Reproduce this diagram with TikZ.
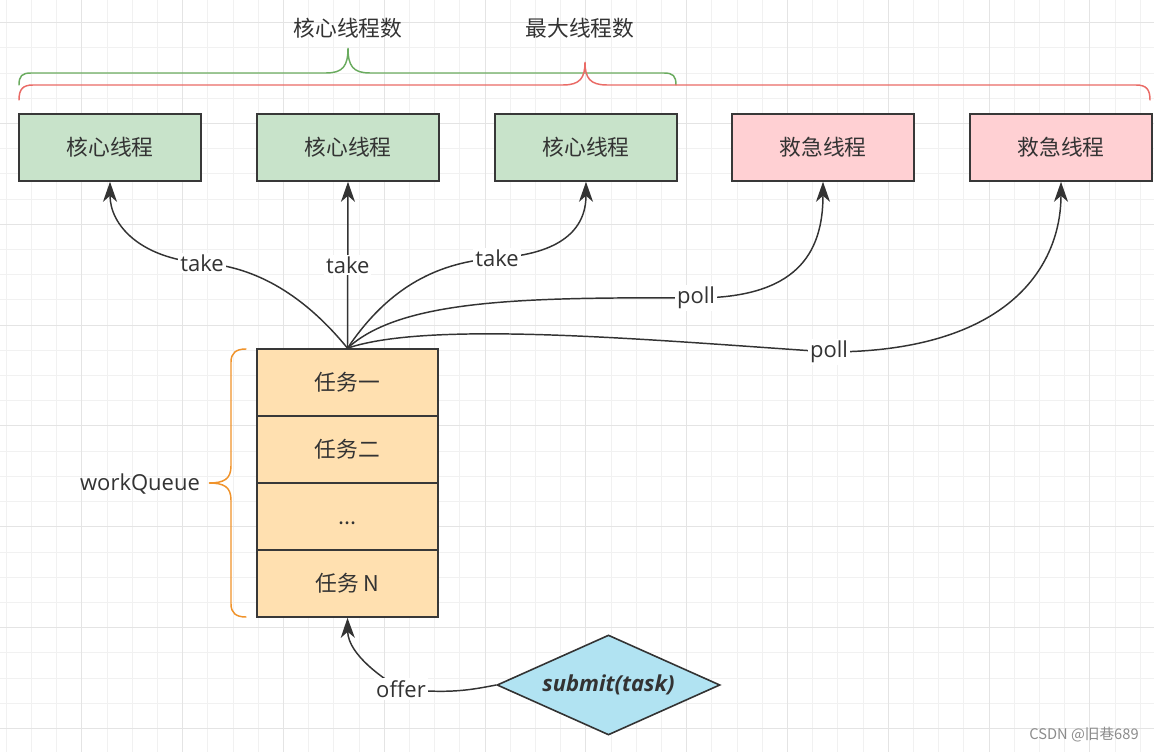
\documentclass[tikz,border=0pt]{standalone}
\usepackage{fontspec}
\setmainfont{Open Sans}
\newfontfamily\cjk{Noto Sans CJK SC}
\usetikzlibrary{shapes.geometric,arrows.meta}
\definecolor{txt}{HTML}{333333}
\definecolor{gfill}{HTML}{C8E3CA}
\definecolor{pfill}{HTML}{FFD0D3}
\definecolor{ofill}{HTML}{FFE0B0}
\definecolor{dfill}{HTML}{B1E3F2}
\definecolor{gbrace}{HTML}{6AAB5F}
\definecolor{rbrace}{HTML}{EA6B66}
\definecolor{obrace}{HTML}{F0932B}
\definecolor{gridminor}{HTML}{F1F1F1}
\definecolor{gridmajor}{HTML}{E4E4E4}
\begin{document}
\begin{tikzpicture}[x=0.75pt,y=-0.75pt,
  every node/.style={text=txt},
  cjkfont/.style={font=\cjk\fontsize{16.3}{19}\selectfont},
  box/.style={cjkfont,draw=black!78,line width=1.2pt,minimum width=136.5pt,minimum height=50.25pt,inner sep=0pt},
  corebox/.style={box,fill=gfill},
  rescuebox/.style={box,fill=pfill},
  qbox/.style={box,fill=ofill,minimum width=135.75pt},
  conn/.style={draw=txt,line width=1.1pt,-{Stealth[length=15pt,width=10.5pt,inset=4.5pt]}},
  lbl/.style={font=\fontsize{16.5}{19}\selectfont,fill=white,inner sep=1.5pt},
  bracestyle/.style={line width=1.1pt,line cap=round}]
\useasboundingbox (0,0) rectangle (1154,752);
\fill[white] (0,0) rectangle (1154,752);
% grid
\foreach \i [evaluate=\i as \x using 6.3+25.2*\i] in {0,...,45}
  \draw[gridminor,line width=0.75pt] (\x,0) -- (\x,752);
\foreach \j [evaluate=\j as \y using -2.4+25.2*\j] in {1,...,29}
  \draw[gridminor,line width=0.75pt] (0,\y) -- (1154,\y);
\foreach \i [evaluate=\i as \x using -18.9+100.8*\i] in {1,...,11}
  \draw[gridmajor,line width=0.75pt] (\x,0) -- (\x,752);
\foreach \j [evaluate=\j as \y using 22.8+100.8*\j] in {0,...,7}
  \draw[gridmajor,line width=0.75pt] (0,\y) -- (1154,\y);

% braces
\draw[gbrace,bracestyle] (19,85) .. controls (19,76) and (22,73) .. (31,73) -- (326,73)
  .. controls (343,73) and (348,66) .. (348,48)
  .. controls (348,66) and (353,73) .. (370,73) -- (664,73)
  .. controls (673,73) and (676,76) .. (676,85);
\draw[rbrace,bracestyle] (19,100) .. controls (19,89) and (23,85) .. (33,85) -- (563,85)
  .. controls (580,85) and (585,78) .. (585,62)
  .. controls (585,78) and (590,85) .. (607,85) -- (1136,85)
  .. controls (1146,85) and (1150,89) .. (1150,100);
\draw[obrace,bracestyle] (246,349) .. controls (236,349) and (231,353) .. (231,362) -- (231,466)
  .. controls (231,479) and (224,483) .. (209,483)
  .. controls (224,483) and (231,487) .. (231,500) -- (231,604)
  .. controls (231,613) and (236,617) .. (246,617);

\node[cjkfont] (t1) at (348,28) {核心线程数};
\node[cjkfont] (t2) at (580,28) {最大线程数};
\node[font=\fontsize{16.5}{19}\selectfont] (wq) at (140,484) {workQueue};

% thread boxes
\node[corebox] (c1) at (110,147.5) {核心线程};
\node[corebox] (c2) at (348,147.5) {核心线程};
\node[corebox] (c3) at (586,147.5) {核心线程};
\node[rescuebox] (e1) at (823,147.5) {救急线程};
\node[rescuebox] (e2) at (1061,147.5) {救急线程};

% queue
\node[qbox] (q1) at (347.5,382.5) {任务一};
\node[qbox] (q2) at (347.5,449.5) {任务二};
\node[qbox] (q3) at (347.5,516.5) {\vphantom{任}...};
\node[qbox] (q4) at (347.5,583.5) {任务 N};

% diamond
\node[diamond,draw=txt,line width=1.2pt,fill=dfill,minimum width=167.25pt,minimum height=75pt,aspect=2.23,inner sep=0pt,
  font=\bfseries\itshape\fontsize{16.5}{19}\selectfont] (d) at (608.5,685) {submit(task)};

% connectors
\draw[conn] (q1.north) .. controls (300,290) and (250,266) .. (202,263) node[lbl]{take}
  .. controls (140,258) and (110,225) .. (c1.south);
\draw[conn] (q1.north) -- (c2.south) node[lbl,pos=0.5]{take};
\draw[conn] (q1.north) .. controls (390,285) and (440,262) .. (497,258) node[lbl]{take}
  .. controls (560,254) and (586,230) .. (c3.south);
\draw[conn] (q1.north) .. controls (400,300) and (520,297) .. (696,298) node[lbl]{poll}
  .. controls (795,298) and (823,255) .. (e1.south);
\draw[conn] (q1.north) .. controls (430,320) and (650,340) .. (829,352) node[lbl]{poll}
  .. controls (1010,352) and (1061,265) .. (e2.south);
\draw[conn] (d.west) .. controls (470,690) and (450,694) .. (401,689) node[lbl]{offer}
  .. controls (385,680) and (348,655) .. (q4.south);

% watermark
\node[font=\cjk\fontsize{11}{13}\selectfont,text=black!45] (wm) at (1084,735) {CSDN @旧巷689};
\end{tikzpicture}
\end{document}
